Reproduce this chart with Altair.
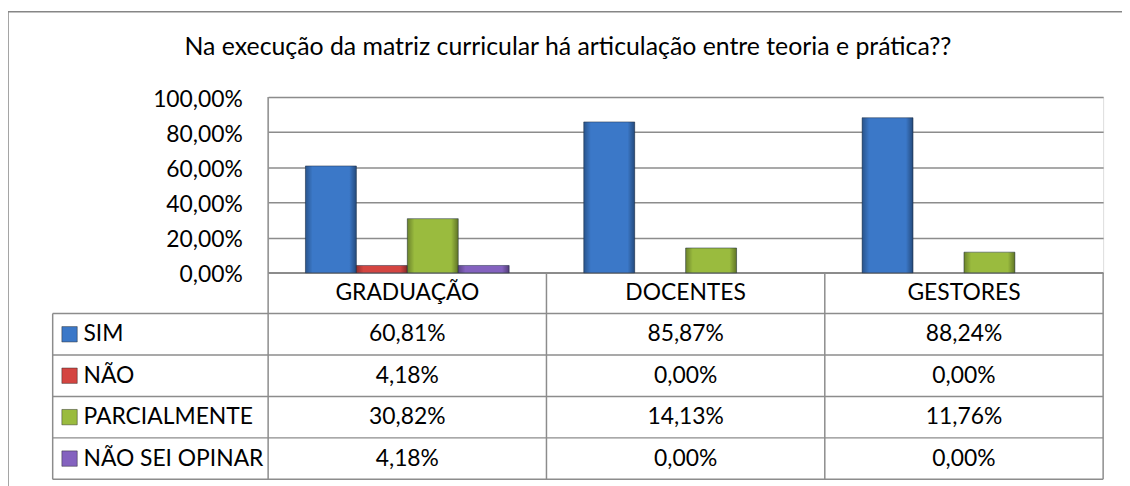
import altair as alt
import pandas as pd

# ---- data ----
CATEGORIES = ["GRADUAÇÃO", "DOCENTES", "GESTORES"]
SERIES = ["SIM", "NÃO", "PARCIALMENTE", "NÃO SEI OPINAR"]
SIM = [0.6081, 0.8587, 0.8824]
NAO = [0.0418, 0.0, 0.0]
PARCIALMENTE = [0.3082, 0.1413, 0.1176]
NAO_SEI = [0.0418, 0.0, 0.0]
TITLE = "Na execução da matriz curricular há articulação entre teoria e prática??"
COLORS = ["#3B78C8", "#D44541", "#9ABB3E", "#8462BF"]

rows = []
for s, vals in zip(SERIES, [SIM, NAO, PARCIALMENTE, NAO_SEI]):
    for c, v in zip(CATEGORIES, vals):
        rows.append({"categoria": c, "serie": s, "valor": v})
df = pd.DataFrame(rows)
cats_df = pd.DataFrame({"categoria": CATEGORIES})
series_df = pd.DataFrame({"serie": SERIES})
title_df = pd.DataFrame({"t": [TITLE]})
one = pd.DataFrame({"a": [0]})

# ---- layout (plot-area pixels) ----
W, H = 841, 177
ROW_TOP = 218
ROW_BOTTOM = 385
TABLE_LEFT = -217
FONT = "Lato"
FS = 23
TFS = 25
GRID = "#8C8C8C"
COL = W / 3

xscale = alt.Scale(domain=CATEGORIES, paddingInner=0.268, paddingOuter=0.134)
color_scale = alt.Scale(domain=SERIES, range=COLORS)
row_scale = alt.Scale(domain=SERIES, range=[ROW_TOP + 20.9, ROW_BOTTOM - 20.9], padding=0)

base = alt.Chart(df)

X = alt.X("categoria:N", sort=CATEGORIES, scale=xscale, axis=None)
XO = alt.XOffset("serie:N", sort=SERIES,
                 scale=alt.Scale(domain=SERIES, paddingInner=0, paddingOuter=0))

bars = base.mark_bar(stroke="#1f2f45", strokeOpacity=0.5, strokeWidth=1).encode(
    x=X, xOffset=XO,
    y=alt.Y("valor:Q", scale=alt.Scale(domain=[0, 1]),
            axis=alt.Axis(values=[0, 0.2, 0.4, 0.6, 0.8, 1.0], format=".2%", title=None,
                          ticks=False, tickSize=0, domain=False, labelPadding=26,
                          labelFont=FONT, labelFontSize=FS, labelColor="#000",
                          labelOffset=2, gridColor=GRID, gridWidth=1.5)),
    color=alt.Color("serie:N", scale=color_scale, legend=None),
).transform_filter(alt.datum.valor > 0)

# bevel shading overlay (darker side edges)
shade_h = base.mark_bar(
    fill=alt.Gradient(gradient="linear", x1=0, y1=0, x2=1, y2=0, stops=[
        alt.GradientStop(offset=0, color="rgba(0,0,0,0.30)"),
        alt.GradientStop(offset=0.14, color="rgba(0,0,0,0.0)"),
        alt.GradientStop(offset=0.86, color="rgba(0,0,0,0.0)"),
        alt.GradientStop(offset=1, color="rgba(0,0,0,0.38)"),
    ]), strokeWidth=0).encode(
    x=X, xOffset=XO, y=alt.Y("valor:Q", scale=alt.Scale(domain=[0, 1]), axis=None),
).transform_filter(alt.datum.valor > 0)

title = alt.Chart(title_df).mark_text(font=FONT, fontSize=TFS, color="#000",
                                      align="center", baseline="alphabetic").encode(
    text="t:N", x=alt.value(302), y=alt.value(-42))

header = alt.Chart(cats_df).mark_text(font=FONT, fontSize=FS, color="#000",
                                      baseline="middle").encode(
    x=X, y=alt.value((H + ROW_TOP) / 2), text="categoria:N")

cells = base.mark_text(font=FONT, fontSize=FS, color="#000", baseline="middle").encode(
    x=X,
    y=alt.Y("serie:N", sort=SERIES, scale=row_scale, axis=None),
    text=alt.Text("valor:Q", format=".2%"))

swatches = alt.Chart(series_df).mark_square(size=240, opacity=1, stroke="#222",
                                            strokeOpacity=0.45, strokeWidth=1).encode(
    x=alt.value(-200),
    y=alt.Y("serie:N", sort=SERIES, scale=row_scale, axis=None),
    color=alt.Color("serie:N", scale=color_scale, legend=None))

row_labels = alt.Chart(series_df).mark_text(font=FONT, fontSize=FS, color="#000",
                                            align="left", baseline="middle").encode(
    x=alt.value(-186),
    y=alt.Y("serie:N", sort=SERIES, scale=row_scale, axis=None),
    text="serie:N")


def hline(y, x1, x2, color=GRID, w=1.5):
    return alt.Chart(one).mark_rule(color=color, strokeWidth=w).encode(
        x=alt.value(x1), x2=alt.value(x2), y=alt.value(y))


def vline(x, y1, y2, color=GRID, w=1.5):
    return alt.Chart(one).mark_rule(color=color, strokeWidth=w).encode(
        x=alt.value(x), y=alt.value(y1), y2=alt.value(y2))


row_h = (ROW_BOTTOM - ROW_TOP) / 4
lines = [hline(H, 0, W)]
for i in range(5):
    lines.append(hline(ROW_TOP + i * row_h, TABLE_LEFT, W))
lines += [
    vline(TABLE_LEFT, ROW_TOP, ROW_BOTTOM),
    vline(0, 0, ROW_BOTTOM),
    vline(COL, H, ROW_BOTTOM),
    vline(2 * COL, H, ROW_BOTTOM),
    vline(W, H, ROW_BOTTOM),
    # outer chart frame
    hline(-86, -262, 880, color="#868686"),
    vline(-262, -86, 420, color="#868686"),
]

chart = alt.layer(*lines, bars, shade_h, title, header, cells, swatches,
                  row_labels).resolve_scale(
    y="independent"
).properties(
    width=W, height=H,
    autosize=alt.AutoSizeParams(type="none"),
    padding={"left": 262, "top": 88, "right": 19, "bottom": 213},
).configure_view(stroke=None).configure(
    locale={"number": {"decimal": ",", "thousands": ".", "grouping": [3],
                       "currency": ["R$", ""]}}
)

chart.save("out.html", embed_options={"renderer": "svg", "actions": False})
